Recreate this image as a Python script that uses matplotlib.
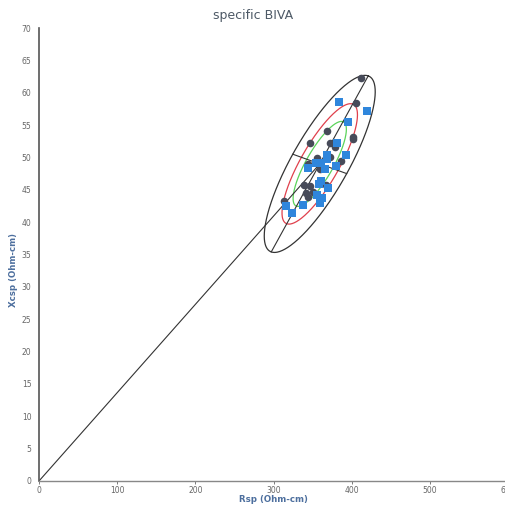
import numpy as np
import matplotlib
matplotlib.use("Agg")
import matplotlib.pyplot as plt

# ---- data ----
circle_x = [411.5, 405, 368, 346.6, 371.8, 378.6, 400.9, 402, 371.8, 386, 356, 344,
            359, 339, 346.6, 341, 351, 344, 313, 366.7]
circle_y = [62.2, 58.4, 54.1, 52.2, 52.3, 51.6, 53.1, 52.9, 50.1, 49.5, 49.9, 49.0,
            48.2, 45.7, 45.6, 44.5, 44.7, 43.9, 43.2, 45.7]
square_x = [383.8, 420, 395.7, 381.6, 392.3, 368, 368, 353.8, 360, 344, 365.4, 379.5,
            360, 358, 370, 356, 362.4, 359.4, 338, 315.4, 324]
square_y = [58.5, 57.1, 55.5, 52.3, 50.4, 50.4, 49.7, 49.1, 49.1, 48.3, 48.2, 48.6,
            46.3, 45.9, 45.2, 44.2, 43.8, 42.9, 42.7, 42.5, 41.4]

ell_center = (359.0, 49.0)
ell_major = (62.0, 13.6)     # conjugate semi-diameter (outer, 95%)
ell_minor = (34.5, -1.5)
ell_scales = [1.0, 0.68, 0.48]
ell_colors = ["#333333", "#e0404c", "#5ad35a"]

xticks = [0, 100, 200, 300, 400, 500, 600]
yticks = list(range(0, 75, 5))

title = "specific BIVA"
xlabel = "Rsp (Ohm-cm)"
ylabel = "Xcsp (Ohm-cm)"

# ---- figure ----
W, H = 506, 507
fig = plt.figure(figsize=(W / 100, H / 100), dpi=100)
ax = fig.add_axes([39 / W, 26 / H, (508.2 - 39) / W, 453 / H])
ax.set_xlim(0, 600)
ax.set_ylim(0, 70)

cx, cy = ell_center
t = np.linspace(0, 2 * np.pi, 400)
for s, c in zip(ell_scales, ell_colors):
    ex = cx + s * (np.cos(t) * ell_major[0] + np.sin(t) * ell_minor[0])
    ey = cy + s * (np.cos(t) * ell_major[1] + np.sin(t) * ell_minor[1])
    ax.plot(ex, ey, color=c, lw=0.9, zorder=2)

# axes of the outer ellipse
ax.plot([cx - ell_major[0], cx + ell_major[0]], [cy - ell_major[1], cy + ell_major[1]],
        color="#333333", lw=0.8, zorder=2)
ax.plot([cx - ell_minor[0], cx + ell_minor[0]], [cy - ell_minor[1], cy + ell_minor[1]],
        color="#333333", lw=0.8, zorder=2)
# line from origin to the centre
ax.plot([0, cx], [0, cy], color="#333333", lw=0.8, zorder=2)

ax.scatter(circle_x, circle_y, s=30, marker="o", color="#474b59", zorder=3, linewidths=0)
ax.scatter(square_x, square_y, s=28, marker="s", color="#2f86dc", zorder=4, linewidths=0)

ax.set_xticks(xticks)
ax.set_yticks(yticks)
ax.tick_params(axis="both", labelsize=5.5, colors="#666666", width=0.6)
ax.tick_params(axis="y", length=0, pad=5.5)
ax.tick_params(axis="x", length=2, pad=1.5)
for sp in ["top", "right"]:
    ax.spines[sp].set_visible(False)
ax.spines["left"].set_color("#555555")
ax.spines["left"].set_linewidth(1.2)
ax.spines["bottom"].set_color("#888888")
ax.spines["bottom"].set_linewidth(1.0)

fig.text(273 / W, 1 - 499 / H, xlabel, ha="center", va="center", fontsize=6.2,
         color="#4d6f9e", fontweight="bold")
fig.text(14 / W, 1 - 270 / H, ylabel, ha="center", va="center", rotation=90,
         fontsize=6.2, color="#4d6f9e", fontweight="bold")
fig.text(0.5, 1 - 15 / H, title, ha="center", va="center", fontsize=9, color="#4d5966")

fig.savefig("out.png", dpi=100)
